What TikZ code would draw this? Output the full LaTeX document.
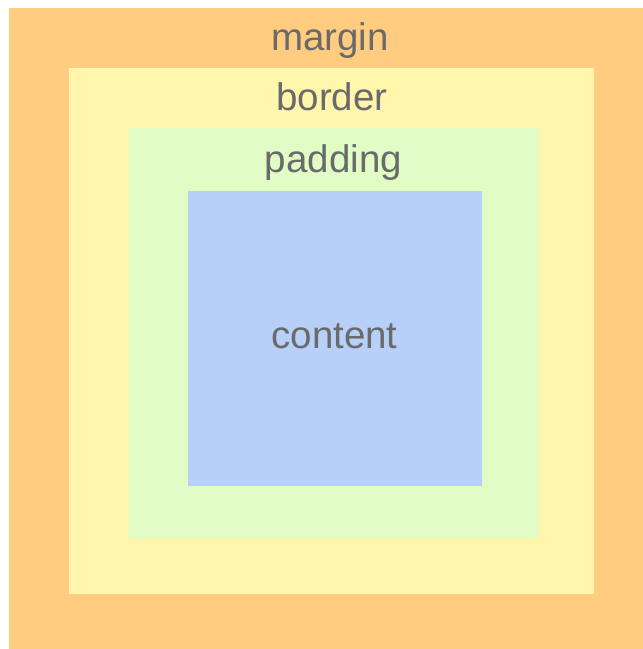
\documentclass[tikz,border=0pt]{standalone}
\usepackage{fontspec}
\setmainfont{Liberation Sans}
\definecolor{margin-orange}{HTML}{FFCC80}
\definecolor{border-yellow}{HTML}{FFF5AB}
\definecolor{padding-green}{HTML}{E1FCC4}
\definecolor{content-blue}{HTML}{B7D0F7}
\definecolor{label-gray}{HTML}{6A6A6A}
\tikzset{
    layer-box/.style = {draw=none},
    layer-label/.style = {text=label-gray, font=\fontsize{38.5bp}{46bp}\selectfont, anchor=base, inner sep=0pt},
}

\begin{document}
\begin{tikzpicture}[x=1bp,y=-1bp]
\useasboundingbox (0,0) rectangle (643,649);
% nested boxes, outside in
\fill[layer-box, margin-orange] (9,8) rectangle (643,649);
\fill[layer-box, border-yellow] (69,68) rectangle (594,594);
\fill[layer-box, padding-green] (129,128) rectangle (539,538);
\fill[layer-box, content-blue] (188,191) rectangle (482,486);
% labels
\node[layer-label] (margin) at (330,51) {margin};
\node[layer-label] (border) at (332,111) {border};
\node[layer-label] (padding) at (333.5,172) {padding};
\node[layer-label] (content) at (334.5,348) {content};
\end{tikzpicture}
\end{document}
